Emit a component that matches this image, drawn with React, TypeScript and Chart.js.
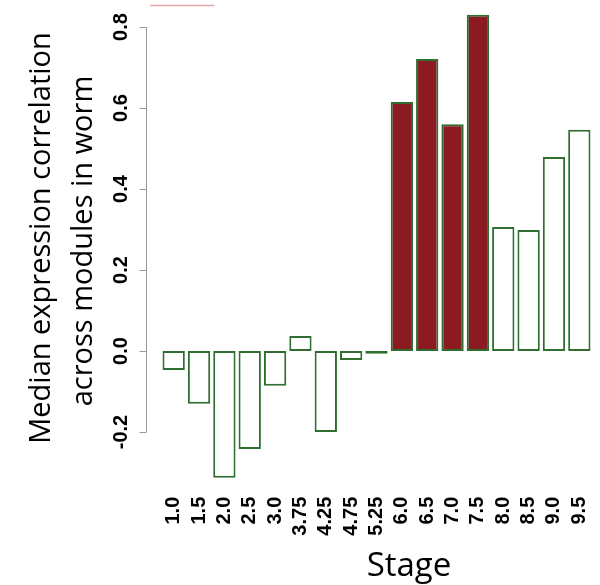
import React, { useEffect, useRef } from "react";
import Chart from "chart.js/auto";

const stages = ["1.0", "1.5", "2.0", "2.5", "3.0", "3.75", "4.25", "4.75", "5.25", "6.0", "6.5", "7.0", "7.5", "8.0", "8.5", "9.0", "9.5"];
const medianCorr = [-0.047, -0.13, -0.313, -0.242, -0.086, 0.037, -0.2, -0.022, -0.007, 0.615, 0.721, 0.56, 0.83, 0.306, 0.299, 0.479, 0.546];
const highlighted = [false, false, false, false, false, false, false, false, false, true, true, true, true, false, false, false, false];
const yTicks = [-0.2, 0.0, 0.2, 0.4, 0.6, 0.8];
const yTitleLines = ["Median expression correlation", "across modules in worm"];
const xTitle = "Stage";

export default function App() {
  const ref = useRef<HTMLCanvasElement | null>(null);
  useEffect(() => {
    document.body.style.margin = "0";
    const canvas = ref.current!;
    const decor = {
      id: "decor",
      afterDraw(chart: any) {
        const ctx = chart.ctx as CanvasRenderingContext2D;
        const ys = chart.scales.y;
        const xs = chart.scales.x;
        const area = chart.chartArea;
        const axisX = Math.round(area.left - 15) + 0.5;
        ctx.save();
        // y axis line and ticks
        ctx.strokeStyle = "#9a9a9a";
        ctx.lineWidth = 1;
        ctx.beginPath();
        ctx.moveTo(axisX, ys.getPixelForValue(yTicks[0]));
        ctx.lineTo(axisX, ys.getPixelForValue(yTicks[yTicks.length - 1]));
        for (const t of yTicks) {
          const py = Math.round(ys.getPixelForValue(t)) + 0.5;
          ctx.moveTo(axisX - 7, py);
          ctx.lineTo(axisX, py);
        }
        ctx.stroke();
        // y tick labels
        ctx.fillStyle = "#000";
        ctx.font = "bold 20px 'Liberation Sans', Arial, sans-serif";
        ctx.textAlign = "center";
        ctx.textBaseline = "middle";
        for (const t of yTicks) {
          const py = ys.getPixelForValue(t);
          ctx.save();
          ctx.translate(axisX - 25, py);
          ctx.rotate(-Math.PI / 2);
          ctx.fillText(t.toFixed(1), 0, 0);
          ctx.restore();
        }
        // x tick labels (rotated, right-aligned to the top)
        ctx.font = "bold 20px 'Liberation Sans', Arial, sans-serif";
        ctx.textAlign = "right";
        ctx.textBaseline = "middle";
        stages.forEach((s, i) => {
          const px = xs.getPixelForValue(i);
          ctx.save();
          ctx.translate(px, area.bottom + 4);
          ctx.rotate(-Math.PI / 2);
          ctx.fillText(s, 0, 0);
          ctx.restore();
        });
        // y title
        ctx.textAlign = "center";
        ctx.font = "29px 'Open Sans', sans-serif";
        [[42, 238], [84, 241]].forEach(([x, y], i) => {
          ctx.save();
          ctx.translate(x, y);
          ctx.rotate(-Math.PI / 2);
          ctx.fillText(yTitleLines[i], 0, 0);
          ctx.restore();
        });
        // x title
        ctx.font = "33px 'Open Sans', sans-serif";
        ctx.textBaseline = "alphabetic";
        ctx.fillText(xTitle, 409, 576);
        // small pink stroke at top
        ctx.strokeStyle = "#e3a4a4";
        ctx.lineWidth = 1.5;
        ctx.beginPath();
        ctx.moveTo(150, 5.5);
        ctx.lineTo(214, 5.5);
        ctx.stroke();
        ctx.restore();
      },
    };
    const chart = new Chart(canvas, {
      type: "bar",
      data: {
        labels: stages,
        datasets: [
          {
            data: medianCorr,
            backgroundColor: highlighted.map((h) => (h ? "#8c1a22" : "#ffffff")),
            borderColor: "#2f6e2f",
            borderWidth: 2,
            borderSkipped: false,
            barPercentage: 0.88,
            categoryPercentage: 1.0,
          },
        ],
      },
      options: {
        responsive: false,
        animation: false,
        layout: { padding: { top: 6.75, left: 161, right: 8, bottom: 0 } },
        plugins: { legend: { display: false }, tooltip: { enabled: false } },
        scales: {
          x: {
            grid: { display: false },
            border: { display: false },
            ticks: { display: false },
            afterFit: (scale: any) => {
              scale.height = 92.25;
            },
          },
          y: {
            display: false,
            min: -0.35,
            max: 0.85,
          },
        },
      },
      plugins: [decor],
    });
    return () => chart.destroy();
  }, []);
  return (
    <div style={{ width: 600, height: 585 }}>
      <canvas ref={ref} width={600} height={585} />
    </div>
  );
}
